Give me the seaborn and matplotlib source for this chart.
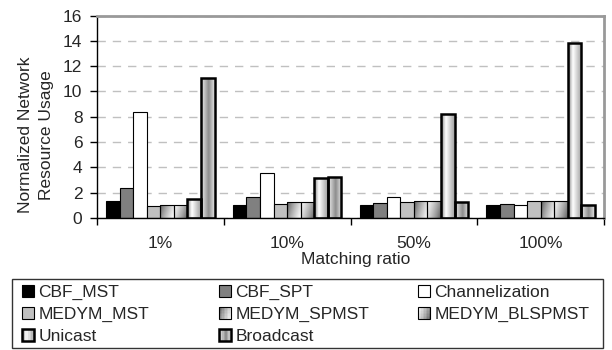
import numpy as np
import pandas as pd
import matplotlib
matplotlib.use("Agg")
import matplotlib.pyplot as plt
import seaborn as sns
from matplotlib.patches import Rectangle, Patch
from matplotlib.legend_handler import HandlerBase

# ---- data -------------------------------------------------------------
ratios = ["1%", "10%", "50%", "100%"]
schemes = ["CBF_MST", "CBF_SPT", "Channelization", "MEDYM_MST",
           "MEDYM_SPMST", "MEDYM_BLSPMST", "Unicast", "Broadcast"]
cbf_mst = [1.35, 1.05, 1.05, 1.00]
cbf_spt = [2.38, 1.67, 1.21, 1.13]
channelization = [8.41, 3.57, 1.63, 1.03]
medym_mst = [0.98, 1.10, 1.29, 1.35]
medym_spmst = [1.03, 1.27, 1.35, 1.37]
medym_blspmst = [1.03, 1.27, 1.35, 1.37]
unicast = [1.50, 3.17, 8.22, 13.83]
broadcast = [11.05, 3.25, 1.24, 1.05]
y_ticks = [0, 2, 4, 6, 8, 10, 12, 14, 16]

series = [cbf_mst, cbf_spt, channelization, medym_mst,
          medym_spmst, medym_blspmst, unicast, broadcast]
df = pd.DataFrame([
    {"ratio": r, "scheme": s, "value": v}
    for s, vals in zip(schemes, series)
    for r, v in zip(ratios, vals)
])

# ---- styling ----------------------------------------------------------
sns.set_style("white")
plt.rcParams["font.family"] = ["Liberation Sans", "DejaVu Sans"]
FS = 12.5

flat = {"CBF_MST": "black", "CBF_SPT": "#808080", "Channelization": "white",
        "MEDYM_MST": "#c0c0c0", "MEDYM_SPMST": "white",
        "MEDYM_BLSPMST": "white", "Unicast": "white", "Broadcast": "white"}
shade_kind = {"MEDYM_SPMST": "diag_tl", "MEDYM_BLSPMST": "diag_br",
              "Unicast": "cyl_light", "Broadcast": "cyl_dark"}
edge_lw = {s: (1.8 if s in ("Unicast", "Broadcast") else 0.8) for s in schemes}


def gradient(kind, u, v):
    """Gray level (0..1) of a fill at normalised position u (left->right), v (bottom->top)."""
    if kind == "diag_tl":
        t = np.clip((u * 0.75 + (1 - v) * 0.25), 0, 1)
        return 0.28 + 0.72 * t ** 0.7
    if kind == "diag_br":
        t = np.clip(((1 - u) * 0.75 + v * 0.25), 0, 1)
        return 0.30 + 0.70 * t ** 0.7
    if kind == "cyl_light":
        return np.interp(u, [0, 0.35, 1], [0.50, 1.0, 0.62])
    if kind == "cyl_dark":
        return np.interp(u, [0, 0.2, 0.55, 0.8, 1], [0.90, 0.80, 0.55, 0.75, 0.90])
    return np.ones_like(u)


W, H = 612, 350
fig = plt.figure(figsize=(W / 100, H / 100), dpi=100)
ax = fig.add_axes([97 / W, 1 - 218 / H, (604 - 97) / W, (218 - 15.5) / H])

sns.barplot(data=df, x="ratio", y="value", hue="scheme", order=ratios,
            hue_order=schemes, palette=flat, width=0.855, gap=0,
            saturation=1, edgecolor="black", linewidth=0.8,
            errorbar=None, legend=False, ax=ax)

# gradient fills clipped to bar outlines
gu, gv = np.meshgrid(np.linspace(0, 1, 64), np.linspace(0, 1, 64))
for name, cont in zip(schemes, ax.containers):
    for p in cont:
        p.set_linewidth(edge_lw[name])
        p.set_zorder(2)
        if name in shade_kind:
            p.set_facecolor("none")
            img = gradient(shade_kind[name], gu, gv)
            x0, y0, w, h = p.get_x(), p.get_y(), p.get_width(), p.get_height()
            im = ax.imshow(img, cmap="gray", vmin=0, vmax=1, origin="lower",
                           extent=(x0, x0 + w, y0, y0 + h), aspect="auto",
                           interpolation="bilinear", zorder=1.9)
            im.set_clip_path(p)

ax.set_xlim(-0.5, 3.5)
ax.set_ylim(0, 16)
ax.set_yticks(y_ticks)
ax.set_yticklabels([str(t) for t in y_ticks], fontsize=FS)
ax.set_xticks([-0.5, 0.5, 1.5, 2.5, 3.5])
ax.set_xticklabels([])
ax.set_xticks([0, 1, 2, 3], minor=True)
ax.set_xticklabels(ratios, minor=True, fontsize=FS)
ax.tick_params(axis="x", which="major", direction="out", length=5, width=1,
               color="black", bottom=True)
ax.tick_params(axis="x", which="minor", length=0, pad=13)
ax.tick_params(axis="y", direction="out", length=5, width=1, color="black",
               left=True, pad=5.5)
ax.set_xlabel("")
ax.set_ylabel("")

ax.set_axisbelow(True)
ax.yaxis.grid(True, linestyle=(0, (6, 5)), color="#c0c0c0", linewidth=1)
for s in ("left", "bottom"):
    ax.spines[s].set_color("black")
    ax.spines[s].set_linewidth(1)
for s in ("top", "right"):
    ax.spines[s].set_color("#999999")
    ax.spines[s].set_linewidth(2)

fig.text(36 / W, 1 - 135 / H, "Normalized Network\nResource Usage",
         rotation=90, ha="center", va="center", multialignment="center",
         linespacing=1.55, fontsize=FS)
fig.text(356 / W, 1 - 264 / H, "Matching ratio", ha="center",
         va="baseline", fontsize=FS)


# ---- legend -----------------------------------------------------------
class SwatchHandler(HandlerBase):
    def __init__(self, name):
        super().__init__()
        self.name = name

    def create_artists(self, legend, orig_handle, xdescent, ydescent,
                       width, height, fontsize, trans):
        arts = []
        x0, y0 = -xdescent, -ydescent
        kind = shade_kind.get(self.name)
        if kind is None:
            arts.append(Rectangle((x0, y0), width, height,
                                  facecolor=flat[self.name], edgecolor="none",
                                  transform=trans))
        else:
            n = 8
            for i in range(n):
                for j in range(n):
                    g = float(gradient(kind, np.array((i + 0.5) / n),
                                       np.array((j + 0.5) / n)))
                    arts.append(Rectangle((x0 + i * width / n, y0 + j * height / n),
                                          width / n + 0.05, height / n + 0.05,
                                          facecolor=(g, g, g), edgecolor="none",
                                          transform=trans))
        arts.append(Rectangle((x0, y0), width, height, facecolor="none",
                              edgecolor="black", linewidth=edge_lw[self.name],
                              transform=trans))
        return arts


handles = {s: Patch(label=s) for s in schemes}
columns = [["CBF_MST", "MEDYM_MST", "Unicast"],
           ["CBF_SPT", "MEDYM_SPMST", "Broadcast"],
           ["Channelization", "MEDYM_BLSPMST"]]
col_x = [22, 219, 418]
for names, cx in zip(columns, col_x):
    fig.legend([handles[n] for n in names], names, loc="upper left",
               bbox_to_anchor=(cx / W, 1 - 285 / H), frameon=False,
               borderpad=0, borderaxespad=0, handlelength=0.7,
               handleheight=0.7, handletextpad=0.25, labelspacing=0.38,
               fontsize=FS,
               handler_map={handles[n]: SwatchHandler(n) for n in names})

fig.add_artist(Rectangle((12 / W, 1 - 348 / H), (603 - 12) / W, (348 - 279) / H,
                         transform=fig.transFigure, facecolor="none",
                         edgecolor="#333333", linewidth=1))

fig.savefig("out.png", dpi=100)
